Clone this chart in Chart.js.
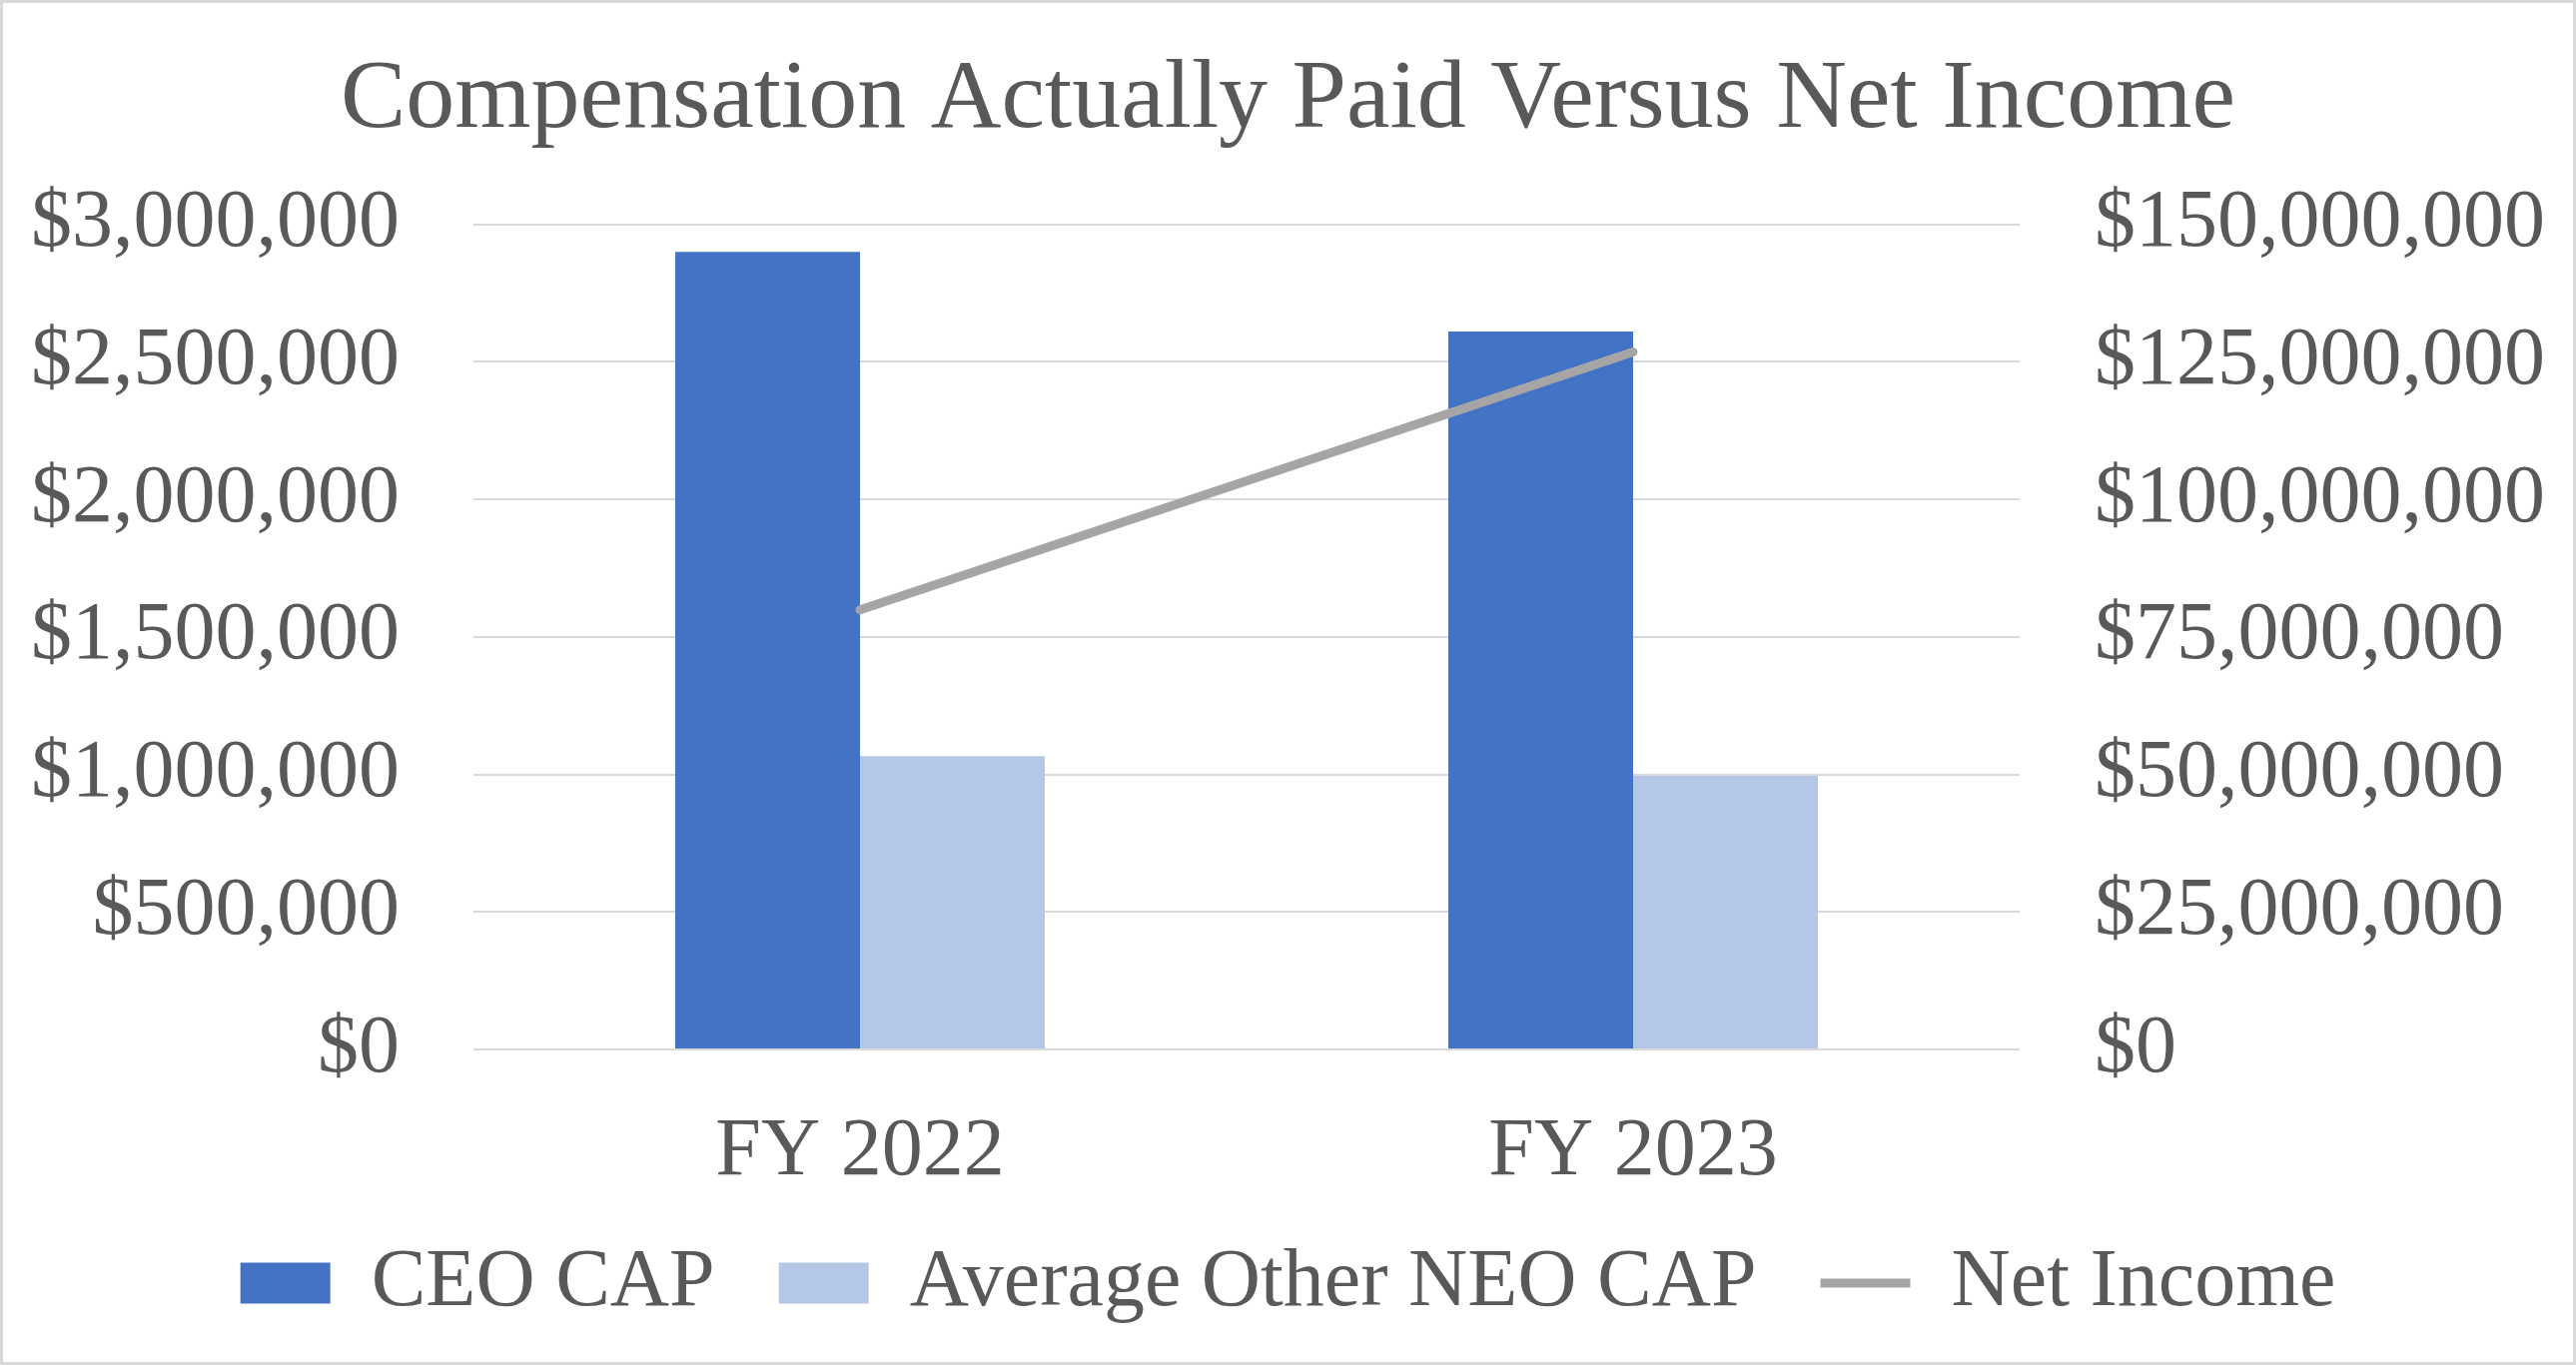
<!DOCTYPE html>
<html>
<head>
<meta charset="utf-8">
<script src="https://cdn.jsdelivr.net/npm/chart.js@4.4.1/dist/chart.umd.min.js"></script>
<style>
  html, body { margin: 0; padding: 0; background: #ffffff; }
  #wrap { position: absolute; left: 0; top: 0; width: 2579px; height: 1367px; box-shadow: inset 0 0 0 3px #d9d9d9; }
  canvas { display: block; }
</style>
</head>
<body>
<div id="wrap"><canvas id="c" width="2579" height="1367"></canvas></div>
<script>
const categories = ['FY 2022', 'FY 2023'];
const ceoCap = [2900000, 2610000];
const neoCap = [1066000, 995000];
const netIncome = [79900000, 126800000];
const leftTicks = [0, 500000, 1000000, 1500000, 2000000, 2500000, 3000000];
const rightTicks = [0, 25000000, 50000000, 75000000, 100000000, 125000000, 150000000];

const FONT = '"Liberation Serif", "Times New Roman", serif';
const TXT = '#595959';
const money = v => '$' + Number(v).toLocaleString('en-US');

new Chart(document.getElementById('c'), {
  data: {
    labels: categories,
    datasets: [
      { type: 'bar', label: 'CEO CAP', data: ceoCap, backgroundColor: '#4472C4', yAxisID: 'y', order: 1,
        categoryPercentage: 0.478, barPercentage: 1.0, pointStyle: 'rect', borderWidth: 0 },
      { type: 'bar', label: 'Average Other NEO CAP', data: neoCap, backgroundColor: '#B4C7E7', yAxisID: 'y', order: 1,
        categoryPercentage: 0.478, barPercentage: 1.0, pointStyle: 'rect', borderWidth: 0 },
      { type: 'line', label: 'Net Income', data: netIncome, borderColor: '#A5A5A5', backgroundColor: '#A5A5A5',
        borderWidth: 9, borderCapStyle: 'round', pointRadius: 0, pointHoverRadius: 0, tension: 0,
        yAxisID: 'y1', order: 0, pointStyle: 'line' }
    ]
  },
  options: {
    responsive: false,
    devicePixelRatio: 1,
    animation: false,
    layout: { padding: { left: 0, right: 0, top: 0, bottom: 31 } },
    plugins: {
      title: {
        display: true, text: 'Compensation Actually Paid Versus Net Income', color: TXT,
        font: { family: FONT, size: 98, weight: 'normal' }, padding: { top: 42, bottom: 65 }
      },
      legend: {
        position: 'bottom',
        labels: {
          color: TXT, font: { family: FONT, size: 82 }, usePointStyle: true,
          pointStyleWidth: 90, boxHeight: 41, padding: 64,
          sort: (a, b) => a.datasetIndex - b.datasetIndex
        }
      },
      tooltip: { enabled: false }
    },
    scales: {
      x: {
        grid: { display: false }, border: { display: false },
        ticks: { color: TXT, font: { family: FONT, size: 82 }, padding: 46 },
        afterFit: s => { s.height = 129; }
      },
      y: {
        position: 'left', min: 0, max: 3000000,
        afterBuildTicks: s => { s.ticks = leftTicks.map(v => ({ value: v })); },
        grid: { color: '#D9D9D9', lineWidth: 2, drawTicks: false }, border: { display: false },
        ticks: { color: TXT, font: { family: FONT, size: 82 }, padding: 74, callback: money },
        afterFit: s => { s.width = 474; }
      },
      y1: {
        position: 'right', min: 0, max: 150000000,
        afterBuildTicks: s => { s.ticks = rightTicks.map(v => ({ value: v })); },
        grid: { display: false, drawTicks: false }, border: { display: false },
        ticks: { color: TXT, font: { family: FONT, size: 82 }, padding: 75, callback: money },
        afterFit: s => { s.width = 557; }
      }
    }
  }
});
</script>
</body>
</html>
